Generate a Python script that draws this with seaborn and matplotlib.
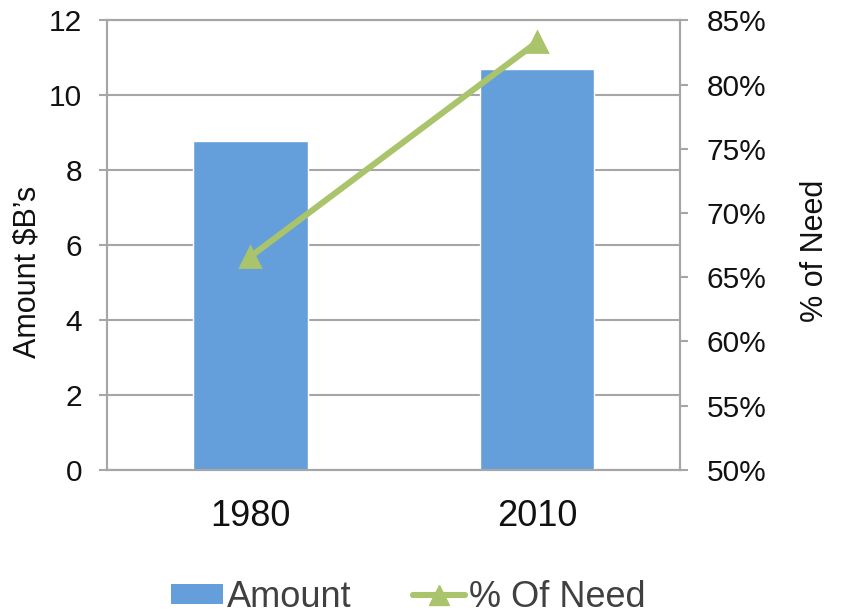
import matplotlib
matplotlib.use("Agg")
import matplotlib.pyplot as plt
import matplotlib.ticker as mticker
from matplotlib.patches import Patch
from matplotlib.lines import Line2D
import seaborn as sns
import pandas as pd

# Data
years = ["1980", "2010"]
amount = [8.77, 10.7]          # $ billions
pct_need = [0.666, 0.833]      # share of need met
left_ticks = [0, 2, 4, 6, 8, 10, 12]
right_ticks = [0.50, 0.55, 0.60, 0.65, 0.70, 0.75, 0.80, 0.85]

bar_color = "#659FDB"
line_color = "#A9C46B"
grid_color = "#A6A6A6"
text_color = "#111111"
legend_text = "#404040"

sns.set_theme(style="white")
plt.rcParams["font.family"] = ["Liberation Sans", "DejaVu Sans"]

df = pd.DataFrame({"Year": years, "Amount": amount, "Pct": pct_need})

fig = plt.figure(figsize=(8.43, 6.15), dpi=100)
ax = fig.add_axes([0.127, 0.236, 0.680, 0.731])

sns.barplot(data=df, x="Year", y="Amount", color=bar_color, width=0.4,
            saturation=1, ax=ax, zorder=3)
ax.set_ylim(0, 12)
ax.set_yticks(left_ticks)
ax.yaxis.grid(True, color=grid_color, linewidth=1.5, zorder=0)
ax.set_axisbelow(True)
ax.set_xlim(-0.5, 1.5)

ax2 = ax.twinx()
sns.pointplot(data=df, x="Year", y="Pct", color=line_color, markers="^",
              linestyles="-", ax=ax2)
for ln in ax2.lines:
    ln.set_linewidth(4.4)
    ln.set_markersize(14)
ax2.set_ylim(0.50, 0.85)
ax2.set_yticks(right_ticks)
ax2.yaxis.set_major_formatter(mticker.FuncFormatter(lambda v, _: f"{round(v*100)}%"))
ax2.set_xlim(-0.5, 1.5)

# Category boundaries carry the tick marks, centers carry the labels
ax.set_xticks([-0.5, 0.5, 1.5])
ax.set_xticklabels([])
ax.set_xticks([0, 1], minor=True)
ax.set_xticklabels(years, minor=True)
ax.tick_params(axis="x", which="major", length=6, width=1.5, color=grid_color, direction="out")
ax.tick_params(axis="x", which="minor", length=0, labelsize=26, pad=21, labelcolor=text_color)
ax.tick_params(axis="y", length=6, width=1.5, color=grid_color, direction="out",
               labelsize=21.5, labelcolor=text_color, pad=12, left=True)
ax2.tick_params(axis="y", length=6, width=1.5, color=grid_color, direction="out",
                labelsize=21.5, labelcolor=text_color, pad=13, right=True)
ax2.tick_params(axis="x", length=0)

for a in (ax, ax2):
    for s in a.spines.values():
        s.set_color(grid_color)
        s.set_linewidth(1.5)
ax.set_xlabel("")
ax2.set_xlabel("")
ax.set_ylabel("Amount $B\u2019s", fontsize=22, color=text_color)
ax2.set_ylabel("% of Need", fontsize=22, color=text_color)
ax.yaxis.set_label_coords(-0.138, 0.44)
ax2.yaxis.set_label_coords(1.2356, 0.487)
ax.yaxis.label.set_va("center")
ax2.yaxis.label.set_va("center")

handles = [
    Patch(facecolor=bar_color, edgecolor="none", label="Amount"),
    Line2D([0], [0], color=line_color, linewidth=4.4, marker="^", markersize=14,
           solid_capstyle="round", label="% Of Need"),
]
fig.legend(handles=handles, loc="center", bbox_to_anchor=(0.484, 0.029), ncol=2,
           frameon=False, fontsize=26, handlelength=1.45, handleheight=0.5,
           handletextpad=0.1, columnspacing=1.7, labelcolor=legend_text,
           borderpad=0, borderaxespad=0)

fig.savefig("out.png", dpi=100)
